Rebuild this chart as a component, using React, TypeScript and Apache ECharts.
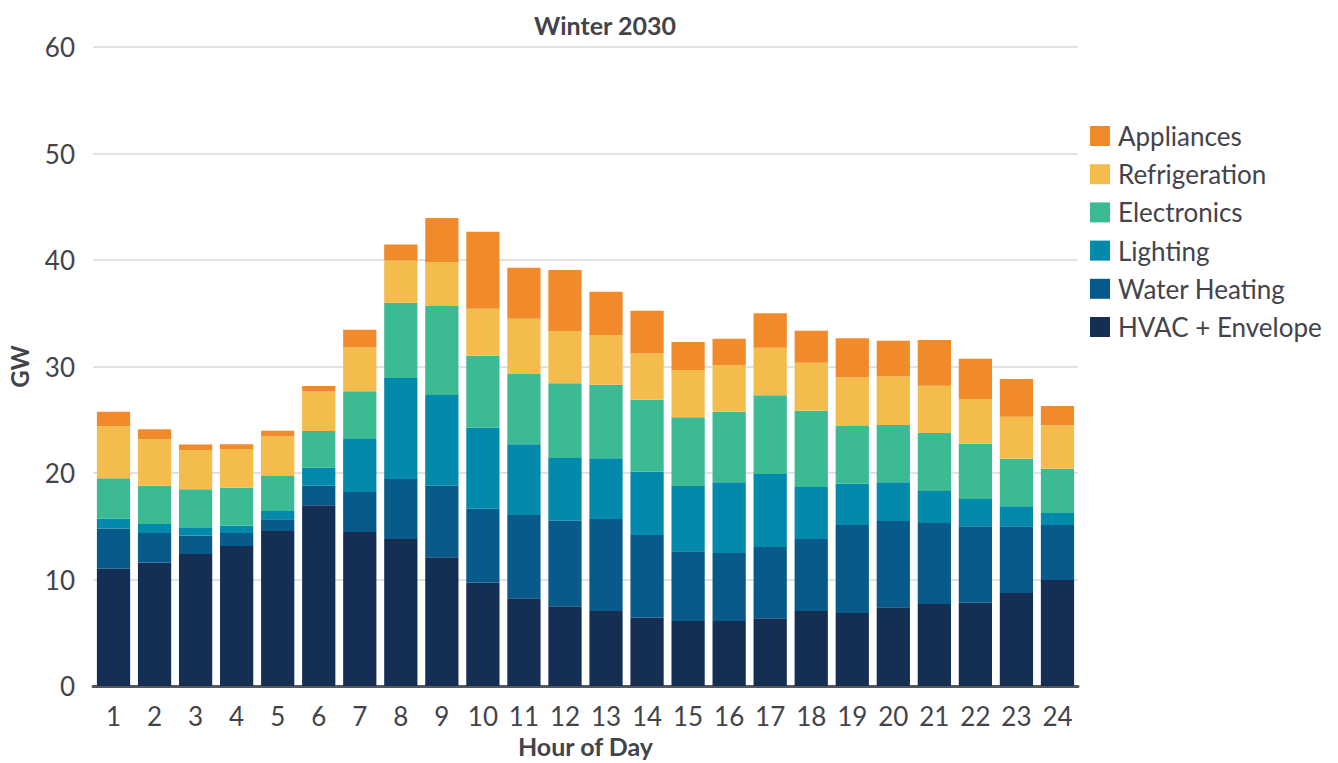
import React, { useEffect, useRef } from "react";
import * as echarts from "echarts";

const hours = ["1","2","3","4","5","6","7","8","9","10","11","12","13","14","15","16","17","18","19","20","21","22","23","24"];

const hvac = [11.0, 11.6, 12.4, 13.15, 14.55, 16.97, 14.46, 13.8, 12.08, 9.73, 8.23, 7.48, 7.04, 6.42, 6.1, 6.1, 6.35, 7.04, 6.85, 7.39, 7.7, 7.82, 8.73, 9.95];
const waterHeating = [3.8, 2.77, 1.73, 1.22, 1.1, 1.83, 3.76, 5.64, 6.73, 6.92, 7.83, 8.04, 8.64, 7.76, 6.55, 6.39, 6.7, 6.76, 8.27, 8.1, 7.61, 7.18, 6.27, 5.17];
const lighting = [0.9, 0.84, 0.78, 0.68, 0.78, 1.7, 4.97, 9.48, 8.51, 7.61, 6.63, 5.89, 5.7, 5.94, 6.13, 6.63, 6.85, 4.89, 3.88, 3.63, 3.0, 2.56, 1.87, 1.12];
const electronics = [3.8, 3.6, 3.57, 3.57, 3.29, 3.44, 4.48, 7.07, 8.36, 6.76, 6.61, 7.01, 6.91, 6.76, 6.45, 6.64, 7.39, 7.16, 5.41, 5.39, 5.45, 5.19, 4.47, 4.17];
const refrigeration = [4.9, 4.36, 3.66, 3.63, 3.72, 3.76, 4.12, 3.96, 4.13, 4.41, 5.19, 4.91, 4.67, 4.36, 4.44, 4.35, 4.48, 4.51, 4.58, 4.54, 4.44, 4.2, 3.95, 4.07];
const appliances = [1.35, 0.94, 0.54, 0.45, 0.53, 0.47, 1.65, 1.5, 4.13, 7.23, 4.79, 5.73, 4.06, 4.0, 2.63, 2.5, 3.23, 3.0, 3.66, 3.37, 4.29, 3.78, 3.54, 1.81];

const seriesNames = ["HVAC + Envelope", "Water Heating", "Lighting", "Electronics", "Refrigeration", "Appliances"];
const seriesData = [hvac, waterHeating, lighting, electronics, refrigeration, appliances];
const seriesColors = ["#142E54", "#075A8A", "#0289AB", "#3BBA93", "#F3BC4C", "#F18A2B"];

const FONT = "Lato, 'Open Sans', sans-serif";
const TEXT = "#43444a";

export default function App() {
  const ref = useRef<HTMLDivElement>(null);
  useEffect(() => {
    if (!ref.current) return;
    const chart = echarts.init(ref.current, undefined, { renderer: "svg" });
    chart.setOption({
      animation: false,
      backgroundColor: "#ffffff",
      textStyle: { fontFamily: FONT },
      title: {
        text: "Winter 2030",
        left: 600,
        top: 7,
        textAlign: "center",
        textStyle: { fontFamily: FONT, fontSize: 25, fontWeight: "bold", color: TEXT },
      },
      legend: {
        orient: "vertical",
        left: 1085,
        top: 118,
        itemWidth: 20,
        itemHeight: 20,
        itemGap: 12.2,
        icon: "rect",
        data: [...seriesNames].reverse(),
        textStyle: { fontFamily: FONT, fontSize: 26, color: TEXT, padding: [0, 0, 0, 3] },
      },
      grid: { left: 93, right: 260, top: 47, bottom: 77, containLabel: false, outerBoundsMode: "none" },
      xAxis: {
        type: "category",
        data: hours,
        name: "Hour of Day",
        nameLocation: "middle",
        nameGap: 47,
        nameTextStyle: { fontFamily: FONT, fontSize: 25, fontWeight: "bold", color: TEXT },
        axisLine: { lineStyle: { color: "#55575c", width: 3 } },
        axisTick: { show: false },
        axisLabel: { fontFamily: FONT, fontSize: 26, color: TEXT, margin: 17 },
      },
      yAxis: {
        type: "value",
        min: 0,
        max: 60,
        interval: 10,
        name: "GW",
        nameLocation: "middle",
        nameGap: 62,
        nameRotate: 90,
        nameTextStyle: { fontFamily: FONT, fontSize: 24, fontWeight: "bold", color: TEXT },
        axisLine: { show: false },
        axisTick: { show: false },
        axisLabel: { fontFamily: FONT, fontSize: 26, color: TEXT, margin: 18 },
        splitLine: { lineStyle: { color: "#d9d9d9", width: 1.5 } },
      },
      series: seriesNames.map((name, i) => ({
        name,
        type: "bar",
        stack: "total",
        barCategoryGap: "19%",
        data: seriesData[i],
        itemStyle: { color: seriesColors[i] },
      })),
    });
    return () => chart.dispose();
  }, []);
  return (
    <div
      ref={ref}
      style={{ position: "absolute", left: 0, top: 0, width: 1338, height: 763 }}
    />
  );
}
